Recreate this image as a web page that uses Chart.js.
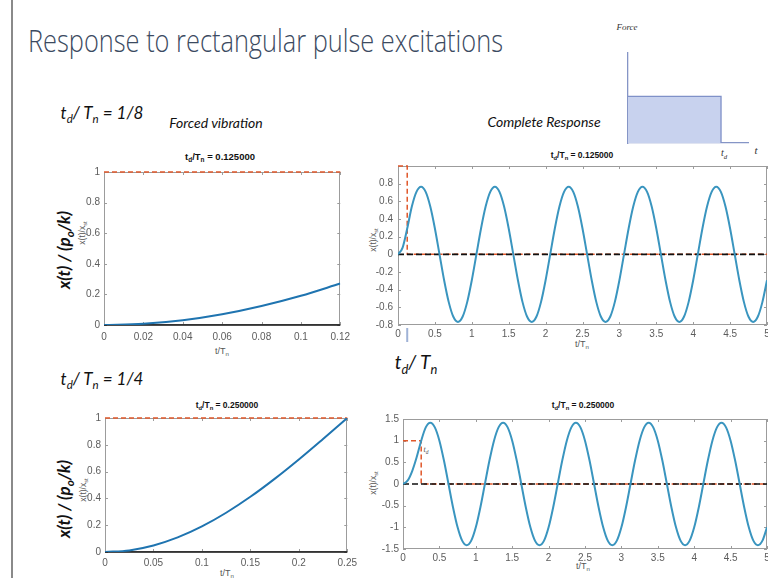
<!DOCTYPE html>
<html><head><meta charset="utf-8">
<script src="https://cdn.jsdelivr.net/npm/chart.js@4.4.1/dist/chart.umd.min.js"></script>
<style>
html,body{margin:0;padding:0;background:#fff;}
body{width:768px;height:578px;overflow:hidden;position:relative;font-family:'Liberation Sans',Arial,sans-serif;}
canvas{position:absolute;}
.t{position:absolute;white-space:nowrap;line-height:1;}
.c{transform:translate(-50%,-50%);}
.rot{transform:translate(-50%,-50%) rotate(-90deg);}
sub{font-size:68%;vertical-align:baseline;position:relative;top:0.38em;}
.slide{font-family:Lato,'Open Sans',sans-serif;font-style:italic;color:#111;}
.ptitle{font-family:'Liberation Sans',Arial,sans-serif;font-weight:bold;font-size:9.5px;color:#111;}
.axl{font-family:'Liberation Sans',Arial,sans-serif;font-size:9px;color:#555;}
.big{font-family:Lato,sans-serif;font-weight:700;font-style:italic;font-size:17px;color:#111;}
.ser{font-family:'Liberation Serif','DejaVu Serif',serif;font-style:italic;color:#333;}
</style></head><body>
<div style="position:absolute;left:11px;top:0;width:1.5px;height:578px;background:#8a8a8a"></div>
<div id="title" class="t" style="left:28px;top:25px;font-family:'Open Sans',sans-serif;font-weight:300;font-size:31px;color:#3b4a61;transform-origin:0 0;">Response to rectangular pulse excitations</div>

<div class="t c slide" style="left:102px;top:112px;font-size:17px;">t<sub>d</sub>/ T<sub>n</sub> = 1/8</div>
<div class="t c slide" style="left:216px;top:123px;font-size:14px;">Forced vibration</div>
<div class="t c slide" style="left:544px;top:122px;font-size:14px;">Complete Response</div>
<div class="t c slide" style="left:102px;top:378px;font-size:17px;">t<sub>d</sub>/ T<sub>n</sub> = 1/4</div>
<div class="t c slide" style="left:416px;top:361px;font-size:19px;">t<sub>d</sub>/ T<sub>n</sub></div>

<div class="t c ptitle" style="left:220px;top:157px;">t<sub>d</sub>/T<sub>n</sub> = 0.125000</div>
<div class="t c ptitle" style="left:582px;top:155px;font-size:8.5px;">t<sub>d</sub>/T<sub>n</sub> = 0.125000</div>
<div class="t c ptitle" style="left:227px;top:405px;font-size:8.5px;">t<sub>d</sub>/T<sub>n</sub> = 0.250000</div>
<div class="t c ptitle" style="left:583px;top:405px;font-size:8.5px;">t<sub>d</sub>/T<sub>n</sub> = 0.250000</div>

<div class="t c axl" style="left:222px;top:351px;">t/T<sub>n</sub></div>
<div class="t c axl" style="left:582px;top:344px;">t/T<sub>n</sub></div>
<div class="t c axl" style="left:227px;top:573px;">t/T<sub>n</sub></div>
<div class="t c axl" style="left:583px;top:566px;">t/T<sub>n</sub></div>

<div class="t rot axl" style="left:82px;top:233px;font-size:8.5px;">x(t)/x<sub>st</sub></div>
<div class="t rot axl" style="left:83px;top:490px;font-size:8.5px;">x(t)/x<sub>st</sub></div>
<div class="t rot axl" style="left:373px;top:240px;font-size:8.5px;">x(t)/x<sub>st</sub></div>
<div class="t rot axl" style="left:373px;top:483px;font-size:8.5px;">x(t)/x<sub>st</sub></div>

<div class="t rot big" style="left:63px;top:250px;">x(t) / (p<sub>o</sub>/k)</div>
<div class="t rot big" style="left:63px;top:499px;">x(t) / (p<sub>o</sub>/k)</div>

<div class="t c ser" style="left:627px;top:27px;font-size:9px;">Force</div>
<div class="t c ser" style="left:724px;top:153px;font-size:10px;">t<sub>d</sub></div>
<div class="t c ser" style="left:756px;top:150px;font-size:11px;">t</div>
<div class="t c ser" style="left:426px;top:450px;font-size:8px;color:#555;">t<sub>d</sub></div>

<script>
// ---------- data ----------
const tForced18 = [0, 0.02, 0.04, 0.06, 0.08, 0.10, 0.12];
const xForced18 = [0, 0.008, 0.031, 0.070, 0.124, 0.191, 0.271];

const tForced14 = [0, 0.025, 0.05, 0.075, 0.1, 0.125, 0.15, 0.175, 0.2, 0.225, 0.25];
const xForced14 = [0, 0.012, 0.049, 0.109, 0.191, 0.293, 0.412, 0.546, 0.691, 0.844, 1.0];

const tResponse = [
  0,0.0625,0.125,0.1875,0.25,0.3125,0.375,0.4375,0.5,0.5625,0.625,0.6875,0.75,0.8125,0.875,0.9375,
  1,1.0625,1.125,1.1875,1.25,1.3125,1.375,1.4375,1.5,1.5625,1.625,1.6875,1.75,1.8125,1.875,1.9375,
  2,2.0625,2.125,2.1875,2.25,2.3125,2.375,2.4375,2.5,2.5625,2.625,2.6875,2.75,2.8125,2.875,2.9375,
  3,3.0625,3.125,3.1875,3.25,3.3125,3.375,3.4375,3.5,3.5625,3.625,3.6875,3.75,3.8125,3.875,3.9375,
  4,4.0625,4.125,4.1875,4.25,4.3125,4.375,4.4375,4.5,4.5625,4.625,4.6875,4.75,4.8125,4.875,4.9375,
  5];
const xResponse18 = [
  0,0.076,0.293,0.541,0.707,0.765,0.707,0.541,0.293,0,-0.293,-0.541,-0.707,-0.765,-0.707,-0.541,
  -0.293,0,0.293,0.541,0.707,0.765,0.707,0.541,0.293,0,-0.293,-0.541,-0.707,-0.765,-0.707,-0.541,
  -0.293,0,0.293,0.541,0.707,0.765,0.707,0.541,0.293,0,-0.293,-0.541,-0.707,-0.765,-0.707,-0.541,
  -0.293,0,0.293,0.541,0.707,0.765,0.707,0.541,0.293,0,-0.293,-0.541,-0.707,-0.765,-0.707,-0.541,
  -0.293,0,0.293,0.541,0.707,0.765,0.707,0.541,0.293,0,-0.293,-0.541,-0.707,-0.765,-0.707,-0.541,
  -0.293];
const xResponse14 = [
  0,0.076,0.293,0.617,1.0,1.307,1.414,1.307,1.0,0.541,0,-0.541,-1.0,-1.307,-1.414,-1.307,
  -1.0,-0.541,0,0.541,1.0,1.307,1.414,1.307,1.0,0.541,0,-0.541,-1.0,-1.307,-1.414,-1.307,
  -1.0,-0.541,0,0.541,1.0,1.307,1.414,1.307,1.0,0.541,0,-0.541,-1.0,-1.307,-1.414,-1.307,
  -1.0,-0.541,0,0.541,1.0,1.307,1.414,1.307,1.0,0.541,0,-0.541,-1.0,-1.307,-1.414,-1.307,
  -1.0,-0.541,0,0.541,1.0,1.307,1.414,1.307,1.0,0.541,0,-0.541,-1.0,-1.307,-1.414,-1.307,
  -1.0];

const pulseT18 = [0, 0.125, 0.125, 5];
const pulseT14 = [0, 0.25, 0.25, 5];
const pulseY   = [1, 1, 0, 0];

const forceT = [0, 1, 1];
const forceY = [1, 1, 0];

const xTicks18F = [0, 0.02, 0.04, 0.06, 0.08, 0.1, 0.12];
const xTicks14F = [0, 0.05, 0.1, 0.15, 0.2, 0.25];
const yTicksF   = [0, 0.2, 0.4, 0.6, 0.8, 1];
const xTicksR   = [0, 0.5, 1, 1.5, 2, 2.5, 3, 3.5, 4, 4.5, 5];
const yTicksR18 = [-0.8, -0.6, -0.4, -0.2, 0, 0.2, 0.4, 0.6, 0.8];
const yTicksR14 = [-1.5, -1, -0.5, 0, 0.5, 1, 1.5];

// ---------- helpers ----------
const pts = (xs, ys) => xs.map((v, i) => ({x: v, y: ys[i]}));
const fmt = v => String(Math.round(v * 1000) / 1000);
const RED = '#e0582b';

const matBox = {
  id: 'matBox',
  beforeDatasetsDraw(chart) {
    const {ctx, chartArea: a, scales: {x, y}} = chart;
    ctx.save();
    ctx.strokeStyle = '#9c9c9c'; ctx.lineWidth = 1;
    ctx.strokeRect(Math.round(a.left) + 0.5, Math.round(a.top) + 0.5,
                   Math.round(a.right - a.left) - 1, Math.round(a.bottom - a.top) - 1);
    ctx.beginPath();
    x.ticks.forEach(t => {
      const p = Math.round(x.getPixelForValue(t.value)) + 0.5;
      ctx.moveTo(p, a.bottom); ctx.lineTo(p, a.bottom - 3);
      ctx.moveTo(p, a.top); ctx.lineTo(p, a.top + 3);
    });
    y.ticks.forEach(t => {
      const p = Math.round(y.getPixelForValue(t.value)) + 0.5;
      ctx.moveTo(a.left, p); ctx.lineTo(a.left + 3, p);
      ctx.moveTo(a.right, p); ctx.lineTo(a.right - 3, p);
    });
    ctx.stroke();
    ctx.restore();
  }
};

function makeChart(area, cfg, pad, plugins) {
  const {L, T, R, B} = pad;
  const cv = document.createElement('canvas');
  const w = area.r - area.l + L + R, h = area.b - area.t + T + B;
  cv.width = w; cv.height = h;
  cv.style.width = w + 'px'; cv.style.height = h + 'px';
  cv.style.left = (area.l - L) + 'px'; cv.style.top = (area.t - T) + 'px';
  document.body.appendChild(cv);
  cfg.options.responsive = false;
  cfg.options.animation = false;
  cfg.options.devicePixelRatio = 1;
  cfg.options.layout = {padding: {left: 0, top: T, right: R, bottom: 0}};
  cfg.options.scales.x.afterFit = s => { s.height = B; };
  cfg.options.scales.y.afterFit = s => { s.width = L; };
  cfg.options.plugins = Object.assign({legend: {display: false}, tooltip: {enabled: false}}, cfg.options.plugins || {});
  cfg.plugins = plugins || [];
  return new Chart(cv, cfg);
}

function axis(min, max, tickArr, pad, hideAbove) {
  return {
    type: 'linear', min, max,
    grid: {display: false, drawTicks: false},
    border: {display: false},
    afterBuildTicks: s => { s.ticks = tickArr.map(v => ({value: v})); },
    ticks: {
      padding: pad, color: '#5c5c5c', maxRotation: 0, autoSkip: false,
      font: {family: "'Liberation Sans', Arial, sans-serif", size: 10},
      callback: v => (hideAbove !== undefined && v > hideAbove) ? '' : fmt(v)
    }
  };
}

function lineDs(data, color, width, extra) {
  return Object.assign({data, borderColor: color, borderWidth: width, pointRadius: 0,
    fill: false, cubicInterpolationMode: 'monotone'}, extra || {});
}

const PAD = {L: 40, T: 8, R: 14, B: 26};

// Top-left: forced vibration, td/Tn = 1/8
makeChart({l: 104, t: 170, r: 342, b: 325}, {
  type: 'line',
  data: {datasets: [
    lineDs(pts(tForced18, xForced18), '#1f74b0', 2),
    lineDs(pts([0, 0.12], [1, 1]), RED, 1.6, {borderDash: [5, 3], clip: false}),
    lineDs(pts([0, 0.12], [0, 0]), '#111', 1.3, {clip: false})
  ]},
  options: {scales: {x: axis(0, 0.12, xTicks18F, 6), y: axis(0, 1, yTicksF, 4)}}
}, PAD, [matBox]);

// Top-right: complete response, td/Tn = 1/8
const tdMarker = {
  id: 'tdMarker',
  afterDraw(chart) {
    const {ctx, chartArea: a, scales: {x}} = chart;
    const p = x.getPixelForValue(0.125);
    ctx.save(); ctx.strokeStyle = '#9fb2d6'; ctx.lineWidth = 2;
    ctx.beginPath(); ctx.moveTo(p, a.bottom + 3); ctx.lineTo(p, a.bottom + 17); ctx.stroke();
    ctx.restore();
  }
};
makeChart({l: 398, t: 163, r: 767, b: 325}, {
  type: 'line',
  data: {datasets: [
    lineDs(pts(tResponse, xResponse18), '#3a95bf', 2),
    lineDs(pts([0, 5], [0, 0]), '#111', 1.6, {clip: false, borderDash: [6, 3]}),
    lineDs(pts(pulseT18, pulseY), RED, 1.5, {borderDash: [5, 3], clip: false, cubicInterpolationMode: 'default', tension: 0})
  ]},
  options: {scales: {x: axis(0, 5, xTicksR, 3), y: axis(-0.8, 1, yTicksR18, 5, 0.9)}}
}, PAD, [matBox, tdMarker]);

// Bottom-left: forced vibration, td/Tn = 1/4
makeChart({l: 105, t: 416, r: 348, b: 552}, {
  type: 'line',
  data: {datasets: [
    lineDs(pts(tForced14, xForced14), '#1f74b0', 2),
    lineDs(pts([0, 0.25], [1, 1]), RED, 1.6, {borderDash: [5, 3], clip: false}),
    lineDs(pts([0, 0.25], [0, 0]), '#111', 1.3, {clip: false})
  ]},
  options: {scales: {x: axis(0, 0.25, xTicks14F, 5), y: axis(0, 1, yTicksF, 4)}}
}, PAD, [matBox]);

// Bottom-right: complete response, td/Tn = 1/4
makeChart({l: 403, t: 417, r: 767, b: 549}, {
  type: 'line',
  data: {datasets: [
    lineDs(pts(tResponse, xResponse14), '#3a95bf', 2),
    lineDs(pts([0, 5], [0, 0]), '#111', 1.6, {clip: false, borderDash: [6, 3]}),
    lineDs(pts(pulseT14, pulseY), RED, 1.5, {borderDash: [5, 3], clip: false, cubicInterpolationMode: 'default', tension: 0})
  ]},
  options: {scales: {x: axis(0, 5, xTicksR, 3), y: axis(-1.5, 1.5, yTicksR14, 4)}}
}, PAD, [matBox]);

// Force inset
const insetAxis = (min, max) => ({
  type: 'linear', min, max,
  grid: {display: false, drawTicks: false},
  border: {display: true, color: '#8595c6', width: 1.3},
  ticks: {display: false}
});
makeChart({l: 628, t: 53, r: 748, b: 143}, {
  type: 'line',
  data: {datasets: [{
    data: pts(forceT, forceY), fill: 'origin', backgroundColor: '#c8d2ee',
    borderColor: '#7f91c8', borderWidth: 1.3, pointRadius: 0, tension: 0, clip: false
  }]},
  options: {scales: {x: insetAxis(0, 1.29), y: insetAxis(0, 1.93)}}
}, {L: 4, T: 4, R: 4, B: 4}, []);

// fit title width to the slide
const ttl = document.getElementById('title');
const tw = ttl.getBoundingClientRect().width;
ttl.style.transform = 'scaleX(' + (475 / tw) + ')';
</script>
</body></html>
